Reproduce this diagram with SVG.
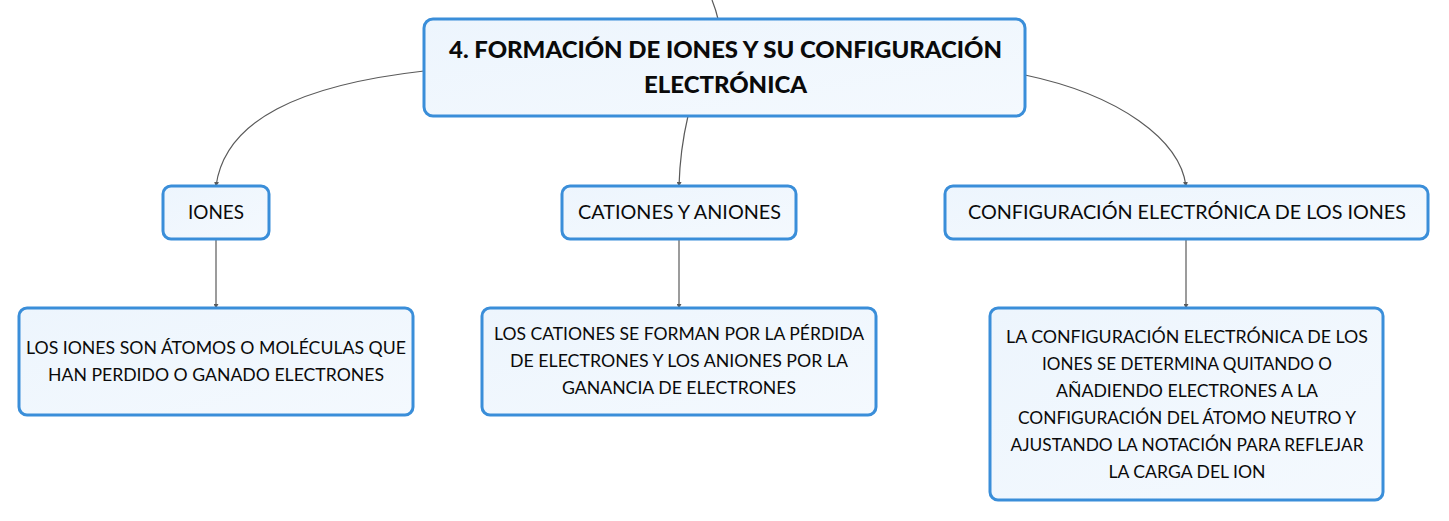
<svg xmlns="http://www.w3.org/2000/svg" width="1449" height="521" viewBox="0 0 1449 521">
<defs>
<linearGradient id="fill" x1="0" y1="0" x2="1" y2="1">
<stop offset="0" stop-color="#edf5fd"/>
<stop offset="1" stop-color="#f4f9fe"/>
</linearGradient>
<marker id="arr" viewBox="0 0 6 6" refX="5" refY="3" markerWidth="5" markerHeight="5" orient="auto" markerUnits="userSpaceOnUse">
<path d="M0,0 L6,3 L0,6 z" fill="#5a5a5a"/>
</marker>
</defs>
<style>
.box{fill:url(#fill);stroke:#3a8ed9;stroke-width:3}
.t{font-family:Lato,"Noto Sans","Liberation Sans",sans-serif;font-size:18.5px;fill:#0a0a0a;text-anchor:middle}
.b{font-family:Lato,"Noto Sans","Liberation Sans",sans-serif;font-size:17px;fill:#0a0a0a;text-anchor:middle}
.r{font-family:Lato,"Noto Sans","Liberation Sans",sans-serif;font-size:23.5px;font-weight:900;fill:#0a0a0a;text-anchor:middle}
.c{fill:none;stroke:#5a5a5a;stroke-width:1.2}
</style>
<g id="connectors">
<path class="c" d="M712,0 Q716,10 718,19"/>
<path class="c" d="M424,71 C300,85 225,120 216,186" marker-end="url(#arr)"/>
<path class="c" d="M688,116 Q680,150 679,186" marker-end="url(#arr)"/>
<path class="c" d="M1025,75 C1120,95 1180,140 1186,186" marker-end="url(#arr)"/>
<path class="c" d="M216,239 L216,308" marker-end="url(#arr)"/>
<path class="c" d="M679,239 L679,308" marker-end="url(#arr)"/>
<path class="c" d="M1186,239 L1186,308" marker-end="url(#arr)"/>
</g>
<g id="root">
<rect class="box" x="424" y="19" width="601" height="97" rx="9"/>
<text class="r" x="725.5" y="58" textLength="553" lengthAdjust="spacingAndGlyphs">4. FORMACIÓN DE IONES Y SU CONFIGURACIÓN</text>
<text class="r" x="725.5" y="93" textLength="163" lengthAdjust="spacingAndGlyphs">ELECTRÓNICA</text>
</g>
<g id="iones">
<rect class="box" x="163" y="186" width="106" height="53" rx="8"/>
<text class="t" x="216" y="219" textLength="56" lengthAdjust="spacingAndGlyphs">IONES</text>
</g>
<g id="cationes">
<rect class="box" x="562" y="186" width="234" height="53" rx="8"/>
<text class="t" x="679.5" y="219" textLength="203" lengthAdjust="spacingAndGlyphs">CATIONES Y ANIONES</text>
</g>
<g id="config">
<rect class="box" x="945" y="186" width="483" height="53" rx="8"/>
<text class="t" x="1187" y="219" textLength="438" lengthAdjust="spacingAndGlyphs">CONFIGURACIÓN ELECTRÓNICA DE LOS IONES</text>
</g>
<g id="iones-desc">
<rect class="box" x="19" y="308" width="394" height="107" rx="8"/>
<text class="b" x="216" y="354" textLength="380" lengthAdjust="spacingAndGlyphs">LOS IONES SON ÁTOMOS O MOLÉCULAS QUE</text>
<text class="b" x="216" y="381" textLength="336" lengthAdjust="spacingAndGlyphs">HAN PERDIDO O GANADO ELECTRONES</text>
</g>
<g id="cationes-desc">
<rect class="box" x="482" y="308" width="394" height="107" rx="8"/>
<text class="b" x="679" y="340" textLength="370" lengthAdjust="spacingAndGlyphs">LOS CATIONES SE FORMAN POR LA PÉRDIDA</text>
<text class="b" x="679" y="367" textLength="338" lengthAdjust="spacingAndGlyphs">DE ELECTRONES Y LOS ANIONES POR LA</text>
<text class="b" x="679" y="394" textLength="234" lengthAdjust="spacingAndGlyphs">GANANCIA DE ELECTRONES</text>
</g>
<g id="config-desc">
<rect class="box" x="990" y="308" width="393" height="192" rx="8"/>
<text class="b" x="1187" y="343" textLength="362" lengthAdjust="spacingAndGlyphs">LA CONFIGURACIÓN ELECTRÓNICA DE LOS</text>
<text class="b" x="1187" y="370" textLength="290" lengthAdjust="spacingAndGlyphs">IONES SE DETERMINA QUITANDO O</text>
<text class="b" x="1187" y="397" textLength="262" lengthAdjust="spacingAndGlyphs">AÑADIENDO ELECTRONES A LA</text>
<text class="b" x="1187" y="424" textLength="338" lengthAdjust="spacingAndGlyphs">CONFIGURACIÓN DEL ÁTOMO NEUTRO Y</text>
<text class="b" x="1187" y="451" textLength="353" lengthAdjust="spacingAndGlyphs">AJUSTANDO LA NOTACIÓN PARA REFLEJAR</text>
<text class="b" x="1187" y="478" textLength="157" lengthAdjust="spacingAndGlyphs">LA CARGA DEL ION</text>
</g>
</svg>
